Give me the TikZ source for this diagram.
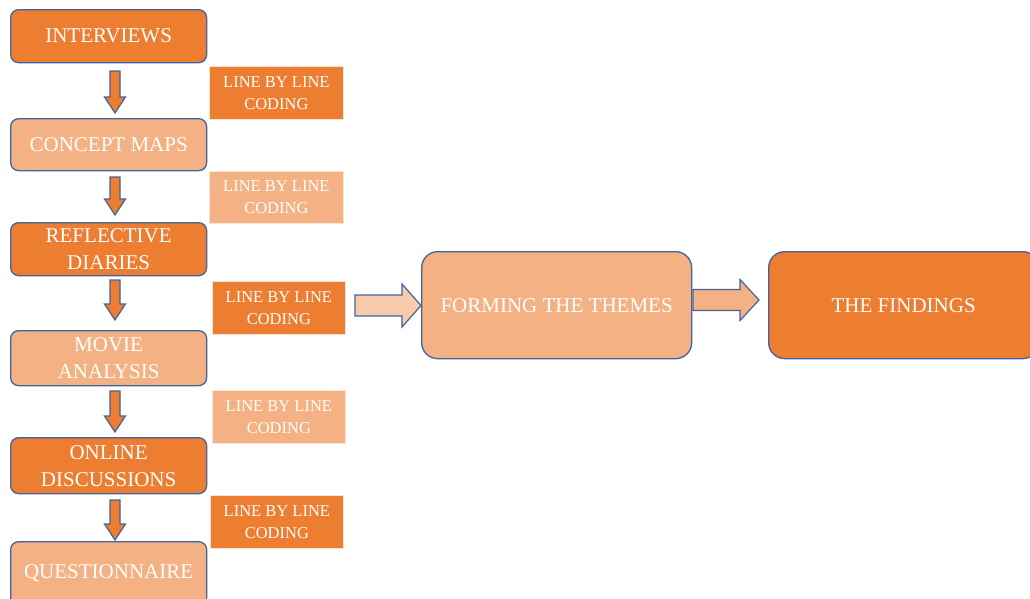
\documentclass[tikz,border=0pt]{standalone}
\usepackage{fontspec}
\setmainfont{Liberation Serif}
\definecolor{dk}{HTML}{ED7D31}
\definecolor{lt}{HTML}{F4B183}
\definecolor{ltr}{HTML}{F8CBAD}
\definecolor{bl}{HTML}{41649E}
\definecolor{cbord}{HTML}{FBE3D3}
\newcommand\blockdown[3]{%
  \draw[barrow,fill=dk] (#1-5,#2) -- (#1+5,#2) -- (#1+5,#3-16) -- (#1+10.5,#3-16) -- (#1,#3) -- (#1-10.5,#3-16) -- (#1-5,#3-16) -- cycle;}
\newcommand\blockright[6]{%
  % #1 x start, #2 x head start, #3 x tip, #4 y centre, #5 shaft half, #6 head half
  \draw[barrow] (#1,#4-#5) -- (#2,#4-#5) -- (#2,#4-#6) -- (#3,#4) -- (#2,#4+#6) -- (#2,#4+#5) -- (#1,#4+#5) -- cycle;}
\begin{document}
\begin{tikzpicture}[x=1pt,y=-1pt,
  stage/.style={draw=bl,line width=1.3pt,rounded corners=8pt,minimum width=196pt,
    inner sep=0pt,text=white,align=center,font=\fontsize{21}{27}\selectfont,anchor=north west},
  coding/.style={draw=cbord,line width=0.8pt,minimum width=134pt,minimum height=53pt,
    inner sep=0pt,text=white,align=center,font=\fontsize{16.5}{22}\selectfont,anchor=north west},
  big/.style={draw=bl,line width=1.3pt,rounded corners=16pt,minimum width=270pt,minimum height=107pt,
    inner sep=0pt,text=white,align=center,font=\fontsize{21}{27}\selectfont,anchor=north west},
  barrow/.style={draw=bl,line width=1.2pt,line join=miter}]
\clip (0,0) rectangle (1030,598);
\fill[white] (0,0) rectangle (1030,598);

\node[stage,fill=dk,minimum height=53pt] (i1) at (10,9) {INTERVIEWS};
\node[stage,fill=lt,minimum height=52pt] (i2) at (10,118) {CONCEPT MAPS};
\node[stage,fill=dk,minimum height=53pt] (i3) at (10,222) {REFLECTIVE\\DIARIES};
\node[stage,fill=lt,minimum height=55pt] (i4) at (10,330) {MOVIE\\ANALYSIS};
\node[stage,fill=dk,minimum height=56pt] (i5) at (10,437) {ONLINE\\DISCUSSIONS};
\node[stage,fill=lt,minimum height=64pt] (i6) at (10,541) {QUESTIONNAIRE};

\node[coding,fill=dk] (c1) at (209,66) {LINE BY LINE\\CODING};
\node[coding,fill=lt,minimum height=52pt] (c2) at (209,171) {LINE BY LINE\\CODING};
\node[coding,fill=dk,minimum width=133pt] (c3) at (212,281) {LINE BY LINE\\CODING};
\node[coding,fill=lt,minimum width=133pt] (c4) at (212,390) {LINE BY LINE\\CODING};
\node[coding,fill=dk,minimum width=133pt] (c5) at (210,495) {LINE BY LINE\\CODING};

\node[big,fill=lt] (th) at (421,251) {FORMING THE THEMES};
\node[big,fill=dk] (fi) at (768,251) {THE FINDINGS};

\blockdown{115}{71}{113}
\blockdown{115}{177}{215}
\blockdown{115}{280}{320}
\blockdown{115}{391}{432}
\blockdown{115}{500}{540}

\begin{scope}[barrow/.append style={fill=ltr}]
\blockright{355}{402}{421}{305.5}{10.5}{21.5}
\end{scope}
\begin{scope}[barrow/.append style={fill=lt}]
\blockright{693}{740}{759}{300}{10.5}{20.5}
\end{scope}
\end{tikzpicture}
\end{document}
